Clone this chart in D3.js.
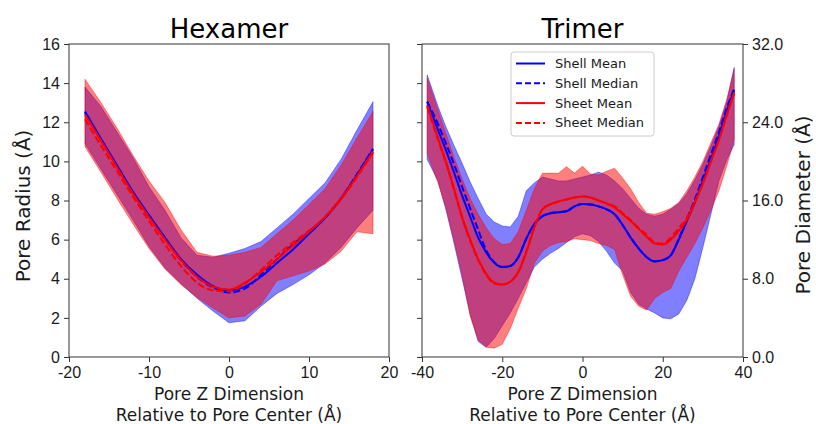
<!DOCTYPE html>
<html>
<head>
<meta charset="utf-8">
<script src="https://cdn.jsdelivr.net/npm/d3@7"></script>
<style>
  body { margin: 0; background: #fff; }
  svg { font-family: "DejaVu Sans", sans-serif; }
</style>
</head>
<body>
<svg id="chart" width="816" height="424"></svg>
<script>
// hexamer profile, radius in angstrom
var hexZ = [-18,-16,-14,-12,-10,-8,-6,-4,-2,0,2,4,6,8,10,12,14,16,18];
var hexShellMean   = [12.55,11.15,9.8,8.45,7.25,6.1,5.0,4.2,3.62,3.4,3.6,4.1,4.8,5.5,6.3,7.1,8.1,9.3,10.6];
var hexShellMedian = [12.5,11.1,9.75,8.4,7.2,6.05,4.95,4.1,3.55,3.3,3.5,4.2,5.0,5.75,6.4,7.15,8.1,9.35,10.65];
var hexSheetMean   = [12.4,11.05,9.7,8.35,7.15,6.0,4.95,4.1,3.6,3.45,3.8,4.35,5.0,5.7,6.4,7.15,8.1,9.25,10.5];
var hexSheetMedian = [12.15,10.8,9.5,8.2,6.95,5.75,4.65,3.8,3.4,3.35,3.75,4.45,5.2,5.85,6.45,7.15,8.05,9.2,10.45];
var hexShellLo = [10.9,9.6,8.3,7.0,5.65,4.55,3.75,3.0,2.35,1.75,1.85,2.6,3.25,3.7,4.2,4.8,5.6,6.6,7.5];
var hexShellHi = [13.8,12.8,11.5,10.2,8.7,7.5,6.1,5.2,5.1,5.3,5.55,5.9,6.6,7.3,8.1,8.9,10.1,11.6,13.05];
var hexSheetLo = [10.75,9.45,8.1,6.8,5.55,4.5,3.7,3.05,2.5,2.0,2.1,2.7,3.9,4.15,4.4,4.75,5.4,6.4,6.3];
var hexSheetHi = [14.2,13.0,11.7,10.3,9.0,7.9,6.5,5.35,5.15,5.2,5.35,5.6,6.3,7.0,7.8,8.6,9.8,11.2,12.55];

// trimer profile
var triZ = [-38.7,-36,-34,-32,-30,-28,-26,-24,-22,-20,-18,-16,-14,-12,-10,-8,-6,-4,-2,0,
            2,4,6,8,10,12,14,16,18,20,22,24,26,28,30,32,34,36,37.8];
var triShellMean   = [13.05,11.6,10.55,9.43,8.25,7.18,6.1,5.35,4.82,4.6,4.65,5.1,6.05,6.8,7.2,7.35,7.4,7.45,7.7,7.82,
                      7.8,7.7,7.55,7.3,6.75,6.1,5.55,5.1,4.88,4.95,5.2,6.0,6.95,7.9,9.0,10.1,11.3,12.6,13.65];
var triShellMedian = [13.05,11.9,10.9,9.85,8.7,7.6,6.5,5.45,4.85,4.6,4.65,5.1,6.05,6.8,7.2,7.35,7.4,7.45,7.7,7.82,
                      7.8,7.7,7.55,7.3,6.75,6.1,5.55,5.1,4.9,4.95,5.2,6.05,7.05,8.05,9.2,10.35,11.5,12.75,13.7];
var triSheetMean   = [12.88,11.18,9.95,8.58,7.15,6.0,5.0,4.25,3.8,3.7,3.85,4.35,5.35,6.6,7.55,7.8,7.95,8.05,8.15,8.2,
                      8.15,8.0,7.85,7.65,7.3,6.95,6.55,6.15,5.8,5.75,6.0,6.45,7.0,7.9,8.85,10.0,11.1,12.4,13.5];
var triSheetMedian = [12.8,11.1,9.9,8.55,7.1,5.95,4.95,4.2,3.75,3.7,3.85,4.35,5.4,6.65,7.55,7.8,7.95,8.05,8.15,8.2,
                      8.15,8.0,7.85,7.7,7.35,7.0,6.6,6.25,5.85,5.8,6.1,6.6,7.1,7.95,8.9,10.0,11.1,12.4,13.5];
var triShellLo = [10.1,9.0,7.5,5.8,4.0,2.2,0.8,0.5,0.95,1.6,2.25,3.0,3.8,4.6,5.0,5.3,5.55,5.85,6.15,6.3,
                  6.2,5.9,5.4,4.8,4.4,3.3,2.7,2.45,2.25,2.0,1.95,2.2,2.9,4.0,5.6,7.3,9.0,10.1,10.85];
var triShellHi = [14.42,12.8,11.75,10.8,9.9,8.95,8.1,7.3,6.9,6.7,6.65,7.2,8.5,8.9,9.2,9.1,9.0,9.0,9.1,9.2,
                  9.3,9.45,9.3,9.0,8.6,8.1,7.6,7.3,7.2,7.3,7.55,7.85,8.35,9.05,9.85,10.8,11.8,13.1,14.8];
var triSheetLo = [10.4,8.9,7.6,5.95,4.2,2.1,0.85,0.5,0.45,0.65,1.45,2.5,3.5,4.8,5.4,5.7,5.85,5.9,6.05,6.0,
                  5.95,5.8,5.7,5.5,4.2,3.1,2.6,2.4,3.0,3.3,3.5,4.4,5.1,5.8,6.6,7.5,8.5,9.8,11.1];
var triSheetHi = [14.25,12.6,11.4,10.2,9.1,8.1,7.3,6.6,6.05,5.75,5.8,6.4,7.5,8.6,9.39,9.4,9.39,9.73,9.4,9.75,
                  9.35,9.3,9.5,9.65,9.15,8.6,7.9,7.35,7.3,7.43,7.6,7.9,8.5,9.2,10.0,10.95,11.9,13.2,14.7];

var radiusTicks = [0,2,4,6,8,10,12,14,16];
var diameterTicks = [0,8,16,24,32];
var legendLabels = ['Shell Mean','Shell Median','Sheet Mean','Sheet Median'];

var svg = d3.select('#chart');
var plotTop = 44, plotBottom = 357;
var blue = '#0000ff', red = '#ff0000';

var y = d3.scaleLinear().domain([0, 16]).range([plotBottom, plotTop]);

function drawPanel(opt) {
  var x = d3.scaleLinear().domain(opt.xDomain).range([opt.left, opt.right]);
  var g = svg.append('g');

  var rows = opt.z.map((z, i) => ({
    z: z,
    shellMean: opt.shellMean[i], shellMedian: opt.shellMedian[i],
    sheetMean: opt.sheetMean[i], sheetMedian: opt.sheetMedian[i],
    shellLo: opt.shellLo[i], shellHi: opt.shellHi[i],
    sheetLo: opt.sheetLo[i], sheetHi: opt.sheetHi[i]
  }));

  var band = (lo, hi) => d3.area()
    .x(d => x(d.z)).y0(d => y(d[lo])).y1(d => y(d[hi]));

  g.append('path').datum(rows)
    .attr('d', band('shellLo', 'shellHi'))
    .attr('fill', 'rgba(0,0,255,0.5)')
    .attr('stroke', 'rgba(0,0,255,0.5)').attr('stroke-width', 0.8);
  g.append('path').datum(rows)
    .attr('d', band('sheetLo', 'sheetHi'))
    .attr('fill', 'rgba(255,0,0,0.5)')
    .attr('stroke', 'rgba(255,0,0,0.5)').attr('stroke-width', 0.8);

  var lines = [
    ['shellMean', blue, null],
    ['shellMedian', blue, '7,3'],
    ['sheetMean', red, null],
    ['sheetMedian', red, '7,3']
  ];
  lines.forEach(l => {
    g.append('path').datum(rows)
      .attr('d', d3.line().x(d => x(d.z)).y(d => y(d[l[0]])).curve(d3.curveMonotoneX))
      .attr('fill', 'none')
      .attr('stroke', l[1])
      .attr('stroke-width', 2)
      .attr('stroke-dasharray', l[2]);
  });

  // axes
  var xAxis = g.append('g')
    .attr('transform', `translate(0, ${plotBottom})`)
    .call(d3.axisBottom(x).tickValues(opt.xTicks).tickSize(5).tickSizeOuter(0).tickPadding(5)
      .tickFormat(d => String(d)));

  var yAxis = g.append('g')
    .attr('transform', `translate(${opt.left}, 0)`)
    .call(d3.axisLeft(y).tickValues(radiusTicks).tickSize(5).tickSizeOuter(0).tickPadding(4)
      .tickFormat(opt.yLabels ? d => String(d) : ''));

  [xAxis, yAxis].forEach(a => {
    a.select('.domain').remove();
    a.selectAll('line').attr('stroke', '#333');
    a.selectAll('text').attr('font-size', 16).attr('fill', '#1a1a1a');
  });

  g.append('rect')
    .attr('x', opt.left).attr('y', plotTop)
    .attr('width', opt.right - opt.left).attr('height', plotBottom - plotTop)
    .attr('fill', 'none').attr('stroke', '#444').attr('stroke-width', 1.1);

  g.append('text')
    .attr('x', (opt.left + opt.right) / 2).attr('y', 38)
    .attr('text-anchor', 'middle').attr('font-size', 26).attr('fill', '#000')
    .text(opt.title);

  var cx = (opt.left + opt.right) / 2;
  g.append('text').attr('x', cx).attr('y', 400)
    .attr('text-anchor', 'middle').attr('font-size', 17).attr('fill', '#1a1a1a')
    .text('Pore Z Dimension');
  g.append('text').attr('x', cx).attr('y', 421)
    .attr('text-anchor', 'middle').attr('font-size', 17).attr('fill', '#1a1a1a')
    .text('Relative to Pore Center (Å)');

  return g;
}

drawPanel({
  title: 'Hexamer', left: 69, right: 389, xDomain: [-20, 20], xTicks: [-20, -10, 0, 10, 20],
  yLabels: true, z: hexZ,
  shellMean: hexShellMean, shellMedian: hexShellMedian, sheetMean: hexSheetMean, sheetMedian: hexSheetMedian,
  shellLo: hexShellLo, shellHi: hexShellHi, sheetLo: hexSheetLo, sheetHi: hexSheetHi
});

var tri = drawPanel({
  title: 'Trimer', left: 422, right: 743, xDomain: [-40, 40], xTicks: [-40, -20, 0, 20, 40],
  yLabels: false, z: triZ,
  shellMean: triShellMean, shellMedian: triShellMedian, sheetMean: triSheetMean, sheetMedian: triSheetMedian,
  shellLo: triShellLo, shellHi: triShellHi, sheetLo: triSheetLo, sheetHi: triSheetHi
});

// secondary diameter axis
var yDiam = d3.scaleLinear().domain([0, 32]).range([plotBottom, plotTop]);
var rAxis = tri.append('g')
  .attr('transform', 'translate(743, 0)')
  .call(d3.axisRight(yDiam).tickValues(diameterTicks).tickSize(5).tickSizeOuter(0).tickPadding(4)
    .tickFormat(d => d.toFixed(1)));
rAxis.select('.domain').remove();
rAxis.selectAll('line').attr('stroke', '#333');
rAxis.selectAll('text').attr('font-size', 16).attr('fill', '#1a1a1a');

svg.append('text')
  .attr('transform', 'translate(30, 206) rotate(-90)')
  .attr('text-anchor', 'middle').attr('font-size', 20).attr('fill', '#1a1a1a')
  .text('Pore Radius (Å)');
svg.append('text')
  .attr('transform', 'translate(810, 205) rotate(-90)')
  .attr('text-anchor', 'middle').attr('font-size', 20).attr('fill', '#1a1a1a')
  .text('Pore Diameter (Å)');

// legend
var legend = svg.append('g');
legend.append('rect')
  .attr('x', 511).attr('y', 52).attr('width', 143).attr('height', 84).attr('rx', 3)
  .attr('fill', 'rgba(255,255,255,0.8)').attr('stroke', '#cccccc');
var legColors = [blue, blue, red, red];
var legDash = [null, '6,3', null, '6,3'];
legendLabels.forEach((label, i) => {
  var ly = 63.5 + i * 19.8;
  legend.append('line')
    .attr('x1', 516).attr('x2', 545).attr('y1', ly).attr('y2', ly)
    .attr('stroke', legColors[i]).attr('stroke-width', 2)
    .attr('stroke-dasharray', legDash[i]);
  legend.append('text')
    .attr('x', 555).attr('y', ly).attr('dy', '0.35em')
    .attr('font-size', 13).attr('fill', '#1a1a1a')
    .text(label);
});
</script>
</body>
</html>
